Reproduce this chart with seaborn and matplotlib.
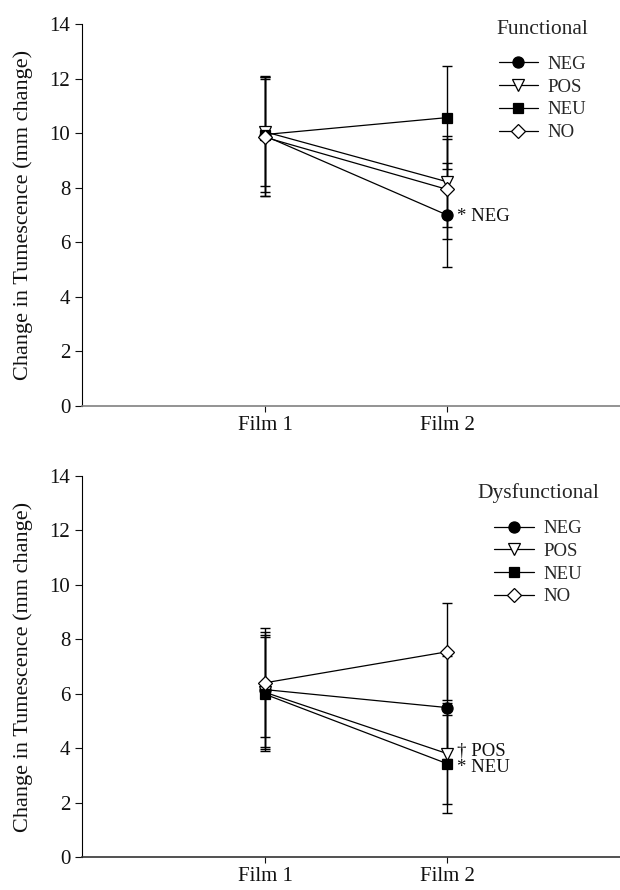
import matplotlib
matplotlib.use('Agg')
import matplotlib.pyplot as plt
import seaborn as sns

films = ['Film 1', 'Film 2']
groups = ['NEG', 'POS', 'NEU', 'NO']

# Functional group: means and standard errors (mm change)
func_neg = [9.90, 7.00]
func_pos = [10.05, 8.22]
func_neu = [9.95, 10.57]
func_no = [9.85, 7.94]
func_neg_err = [2.20, 1.90]
func_pos_err = [2.00, 1.67]
func_neu_err = [2.10, 1.88]
func_no_err = [2.15, 1.83]

# Dysfunctional group
dys_neg = [6.15, 5.49]
dys_pos = [6.05, 3.80]
dys_neu = [5.98, 3.43]
dys_no = [6.40, 7.54]
dys_neg_err = [2.10, 1.88]
dys_pos_err = [2.10, 1.85]
dys_neu_err = [2.10, 1.80]
dys_no_err = [2.00, 1.78]

sns.set_style('ticks')
plt.rcParams['font.family'] = ['Liberation Serif', 'DejaVu Serif']

styles = {
    'NEG': dict(marker='o', markerfacecolor='black', markersize=8),
    'POS': dict(marker='v', markerfacecolor='white', markersize=8),
    'NEU': dict(marker='s', markerfacecolor='black', markersize=7),
    'NO': dict(marker='D', markerfacecolor='white', markersize=7),
}


def draw_panel(ax, means, errs, title, notes, xcolor, leg_anchor):
    for g in groups:
        ax.errorbar(films, means[g], yerr=errs[g], fmt='none', ecolor='black',
                    elinewidth=1.0, capsize=3.5, capthick=1.0, zorder=1)
    for g in groups:
        sns.lineplot(x=films, y=means[g], ax=ax, color='black', linewidth=0.9,
                     markeredgecolor='black', markeredgewidth=0.9, label=g,
                     zorder=3, sort=False, **styles[g])
    for g, txt, dy in notes:
        ax.annotate(txt, xy=(films[1], means[g][1]), xytext=(7, dy),
                    textcoords='offset points', ha='left', va='center',
                    fontsize=13.5, color='#111111')
    ax.set_ylim(0, 14)
    ax.set_yticks(range(0, 15, 2))
    ax.set_xlim(-1.005, 1.95)
    ax.set_ylabel('Change in Tumescence (mm change)', fontsize=16, labelpad=12,
                  color='#111111')
    ax.set_xlabel('')
    sns.despine(ax=ax)
    ax.spines['left'].set_color('black')
    ax.spines['bottom'].set_color(xcolor)
    ax.spines['bottom'].set_linewidth(1.2)
    ax.tick_params(axis='y', length=5, width=0.8, labelsize=15, colors='#111111')
    ax.tick_params(axis='x', length=4, width=0.8, labelsize=15, colors='#111111')
    leg = ax.legend(loc='upper right', bbox_to_anchor=leg_anchor, frameon=False,
                    title=title, title_fontsize=15.5, fontsize=13.5,
                    handlelength=2.1, handletextpad=0.5, labelspacing=0.3,
                    borderaxespad=0)
    leg._legend_box.sep = 12


fig = plt.figure(figsize=(6.2, 8.9), dpi=100)
ax1 = fig.add_axes([0.1323, 0.5438, 0.8677, 0.4292])
ax2 = fig.add_axes([0.1323, 0.0371, 0.8677, 0.4281])

draw_panel(ax1,
           {'NEG': func_neg, 'POS': func_pos, 'NEU': func_neu, 'NO': func_no},
           {'NEG': func_neg_err, 'POS': func_pos_err, 'NEU': func_neu_err, 'NO': func_no_err},
           'Functional', [('NEG', '* NEG', -1)], '#808080', (0.955, 1.03))
draw_panel(ax2,
           {'NEG': dys_neg, 'POS': dys_pos, 'NEU': dys_neu, 'NO': dys_no},
           {'NEG': dys_neg_err, 'POS': dys_pos_err, 'NEU': dys_neu_err, 'NO': dys_no_err},
           'Dysfunctional', [('POS', '\u2020 POS', 2), ('NEU', '* NEU', -2.5)],
           '#333333', (0.975, 1.0))

fig.savefig('out.png', dpi=100)
